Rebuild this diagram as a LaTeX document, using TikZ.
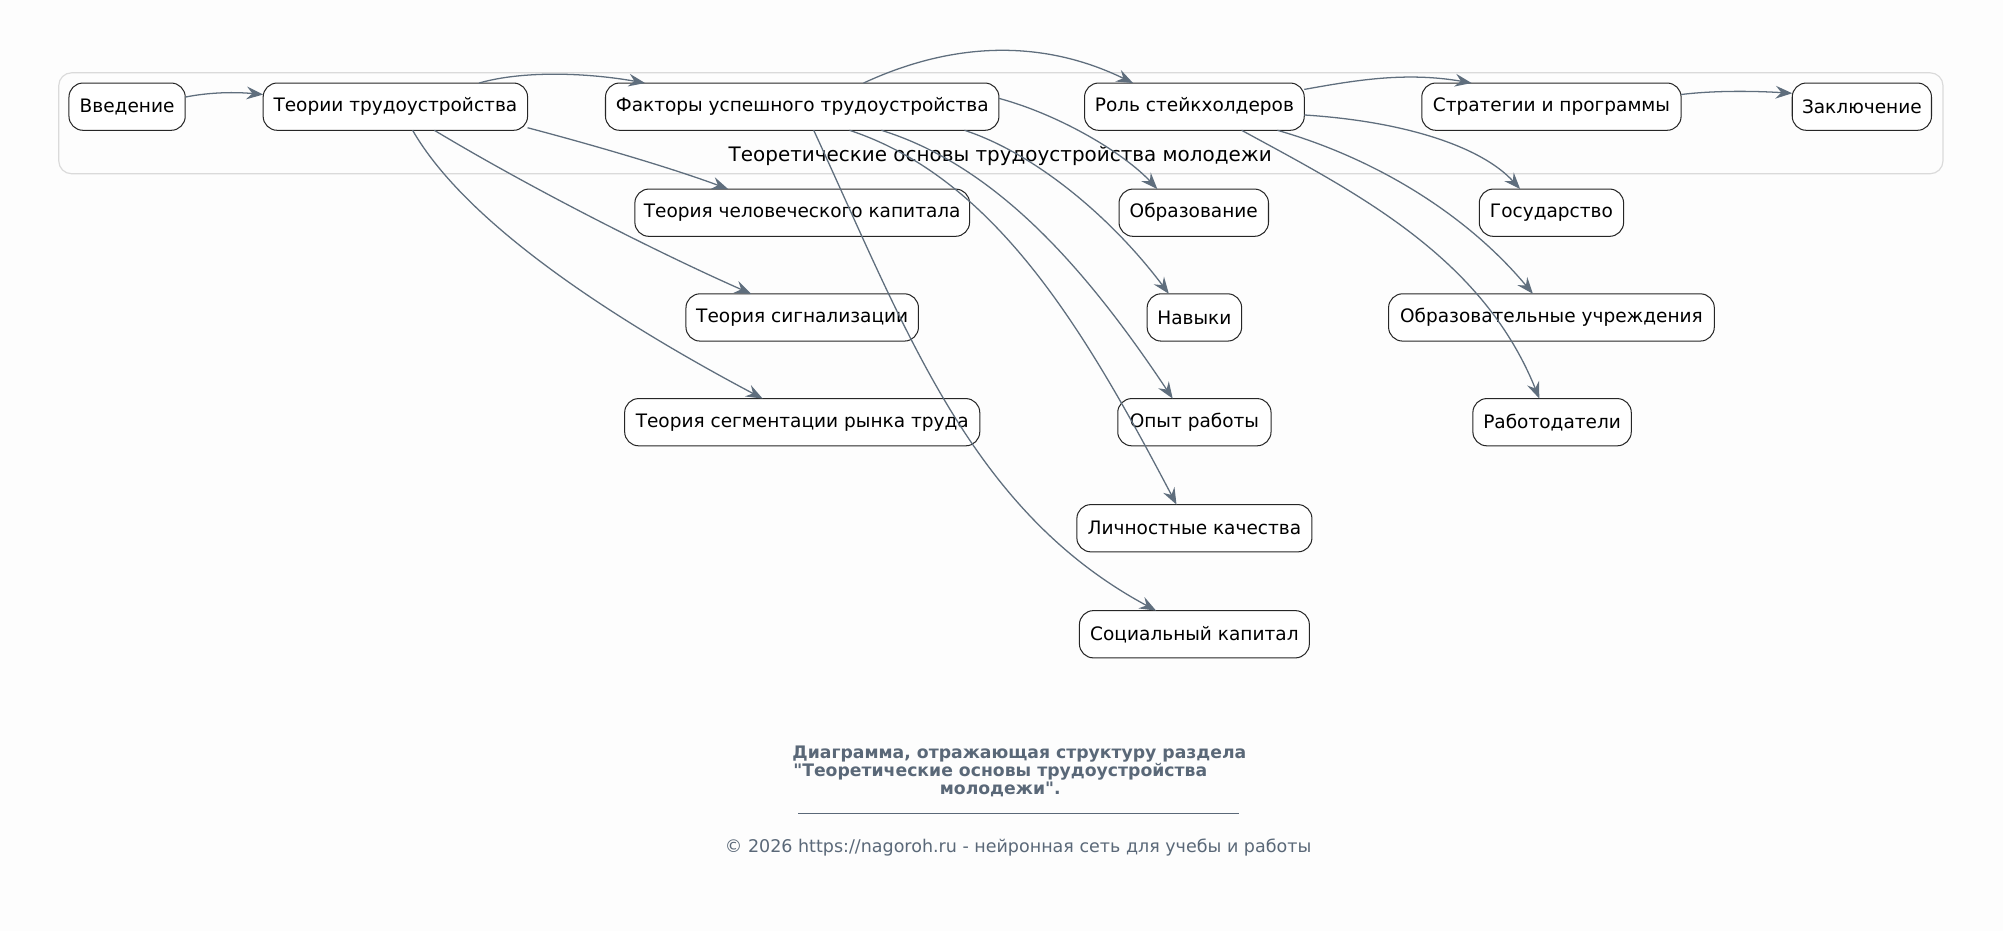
\documentclass[tikz,border=0pt]{standalone}
\usepackage{fontspec}
\setmainfont{DejaVu Sans}
\newfontfamily\dvplain{DejaVu Sans}
\usetikzlibrary{calc,arrows.meta}
\definecolor{edgec}{HTML}{5F6E7D}
\definecolor{capc}{HTML}{5A6878}
\definecolor{clusterc}{HTML}{DADADA}
\definecolor{bgc}{HTML}{FDFDFD}
\tikzset{
  box/.style={draw=black!85, line width=0.8pt, fill=white, rounded corners=11pt,
    minimum height=37pt, inner xsep=0pt, font=\fontsize{14.5}{16}\selectfont},
  edge/.style={draw=edgec, line width=1pt, -{Stealth[length=13pt,width=10pt,inset=4.5pt]}},
  captxt/.style={text=capc, font=\dvplain\fontsize{13.5}{15}\selectfont\bfseries, inner sep=0pt},
  foot/.style={text=capc, font=\fontsize{13.7}{15}\selectfont, inner sep=0pt}
}
\begin{document}
\begin{tikzpicture}[x=1pt,y=-1pt]
\fill[bgc] (0,0) rectangle (1568,729);
\useasboundingbox (0,0) rectangle (1568,729);
% cluster
\draw[clusterc, line width=0.9pt, rounded corners=10pt] (46,57) rectangle (1521,136);
\node[font=\fontsize{15.6}{17}\selectfont, inner sep=0pt] (clab) at (783,122) {Теоретические основы трудоустройства молодежи};
% nodes
\node[box, minimum width=91pt]  (intro) at (99.5,83.5) {Введение};
\node[box, minimum width=207pt] (teorii) at (309.5,83.5) {Теории трудоустройства};
\node[box, minimum width=308pt] (fak) at (628,83.5) {Факторы успешного трудоустройства};
\node[box, minimum width=172pt] (rol) at (935,83.5) {Роль стейкхолдеров};
\node[box, minimum width=203pt] (strat) at (1214.5,83.5) {Стратегии и программы};
\node[box, minimum width=109pt] (zakl) at (1457.5,83.5) {Заключение};
\node[box, minimum width=262pt] (hc) at (628,166.5) {Теория человеческого капитала};
\node[box, minimum width=182pt] (sig) at (628,248.5) {Теория сигнализации};
\node[box, minimum width=278pt] (seg) at (628,330.5) {Теория сегментации рынка труда};
\node[box, minimum width=117pt] (obr) at (934.5,166.5) {Образование};
\node[box, minimum width=74pt]  (nav) at (935,248.5) {Навыки};
\node[box, minimum width=120pt] (opyt) at (935,330.5) {Опыт работы};
\node[box, minimum width=184pt] (lich) at (935,413.5) {Личностные качества};
\node[box, minimum width=180pt] (soc) at (935,496.5) {Социальный капитал};
\node[box, minimum width=113pt] (gos) at (1214.5,166.5) {Государство};
\node[box, minimum width=255pt] (ou) at (1214.5,248.5) {Образовательные учреждения};
\node[box, minimum width=124pt] (rab) at (1215,330.5) {Работодатели};
% edges
\draw[edge] ($(intro.center)+(45.5,-7.5)$) .. controls (165,72) and (185,72) .. ($(teorii.center)+(-103.5,-9.5)$);
\draw[edge] ($(teorii.center)+(65.5,-18.5)$) .. controls (410,55) and (460,57) .. ($(fak.center)+(-123,-18.5)$);
\draw[edge] ($(fak.center)+(48,-18.5)$) .. controls (745,33) and (815,30) .. ($(rol.center)+(-48,-18.5)$);
\draw[edge] ($(rol.center)+(86,-13.5)$) .. controls (1060,63) and (1100,56) .. ($(strat.center)+(-62.5,-18.5)$);
\draw[edge] ($(strat.center)+(101.5,-9.5)$) .. controls (1340,71) and (1370,71) .. ($(zakl.center)+(-54.5,-10.5)$);
\draw[edge] ($(teorii.center)+(103.5,16.5)$) .. controls (470,115) and (530,133) .. ($(hc.center)+(-58,-18.5)$);
\draw[edge] ($(teorii.center)+(30.5,18.5)$) .. controls (420,150) and (520,200) .. ($(sig.center)+(-40,-18.5)$);
\draw[edge] ($(teorii.center)+(13.5,18.5)$) .. controls (365,175) and (480,250) .. ($(seg.center)+(-31,-18.5)$);
\draw[edge] ($(fak.center)+(154,-6.5)$) .. controls (830,90) and (880,120) .. ($(obr.center)+(-28.5,-18.5)$);
\draw[edge] ($(fak.center)+(127,18.5)$) .. controls (810,120) and (870,170) .. ($(nav.center)+(-20,-18.5)$);
\draw[edge] ($(fak.center)+(62,18.5)$) .. controls (780,130) and (850,210) .. ($(opyt.center)+(-17,-18.5)$);
\draw[edge] ($(fak.center)+(37,18.5)$) .. controls (780,140) and (850,260) .. ($(lich.center)+(-14,-18.5)$);
\draw[edge] ($(fak.center)+(9,18.5)$) .. controls (710,260) and (760,400) .. ($(soc.center)+(-30,-18.5)$);
\draw[edge] ($(rol.center)+(86,6.5)$) .. controls (1100,95) and (1160,115) .. ($(gos.center)+(-24.5,-18.5)$);
\draw[edge] ($(rol.center)+(65,18.5)$) .. controls (1080,125) and (1150,170) .. ($(ou.center)+(-14.5,-18.5)$);
\draw[edge] ($(rol.center)+(37,18.5)$) .. controls (1060,150) and (1160,200) .. ($(rab.center)+(-10,-18.5)$);
% caption
\node[captxt] (cap1) at (798,590.5) {Диаграмма, отражающая структуру раздела};
\node[captxt] (cap2) at (783,604.5) {"Теоретические основы трудоустройства};
\node[captxt] (cap3) at (783,618) {молодежи".};
\coordinate (rl) at (625,637);
\coordinate (rr) at (970,637);
\draw[capc, line width=0.6pt] (rl) -- (rr);
\node[foot] (foot) at (797,663.5) {© 2026 https://nagoroh.ru - нейронная сеть для учебы и работы};
\end{tikzpicture}
\end{document}
